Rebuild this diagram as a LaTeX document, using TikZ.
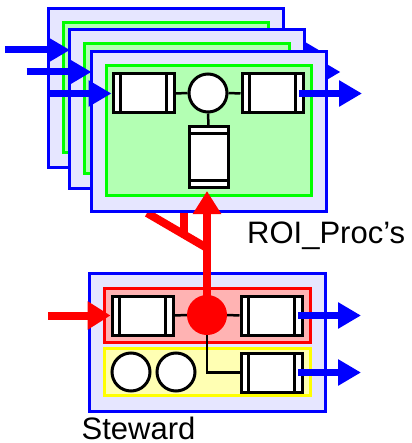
\documentclass[tikz,border=0pt]{standalone}
\usepackage{fontspec}
\setmainfont{Liberation Sans}
\usetikzlibrary{arrows.meta}
\definecolor{lav}{RGB}{230,230,255}
\definecolor{lgreen}{RGB}{179,255,179}
\definecolor{lred}{RGB}{255,179,179}
\definecolor{lyellow}{RGB}{255,255,179}
\definecolor{pblue}{RGB}{0,0,255}
\definecolor{pgreen}{RGB}{0,255,0}
\definecolor{pred}{RGB}{255,0,0}
\definecolor{pyellow}{RGB}{255,255,0}
\tikzset{
  outerframe/.style={rectangle, draw=pblue, fill=lav, line width=3pt, minimum width=235pt, minimum height=159pt, inner sep=0pt},
  greenframe/.style={rectangle, draw=pgreen, fill=lgreen, line width=3pt, minimum width=205pt, minimum height=130pt, inner sep=0pt},
  bandbox/.style={rectangle, line width=3pt, minimum width=206pt, inner sep=0pt},
  hqueue/.style={rectangle, draw=black, fill=white, line width=3pt, minimum width=61pt, minimum height=39pt, inner sep=0pt,
    path picture={
      \draw[line width=2.2pt] ([xshift=7.5pt]path picture bounding box.north west) -- ([xshift=7.5pt]path picture bounding box.south west);
      \draw[line width=2.2pt] ([xshift=-7.5pt]path picture bounding box.north east) -- ([xshift=-7.5pt]path picture bounding box.south east);
    }},
  vqueue/.style={rectangle, draw=black, fill=white, line width=3pt, minimum width=39pt, minimum height=61pt, inner sep=0pt,
    path picture={
      \draw[line width=2.2pt] ([yshift=-6.5pt]path picture bounding box.north west) -- ([yshift=-6.5pt]path picture bounding box.north east);
      \draw[line width=2.2pt] ([yshift=7.5pt]path picture bounding box.south west) -- ([yshift=7.5pt]path picture bounding box.south east);
    }},
  station/.style={circle, draw=black, fill=white, line width=3pt, minimum size=38pt, inner sep=0pt},
  link/.style={draw=black, line width=2.5pt},
  bluearrow/.style={draw=pblue, line width=7pt, -{Triangle[length=23pt,width=25pt]}},
  redarrow/.style={draw=pred, line width=8pt, -{Triangle[length=23pt,width=27pt]}},
  redline/.style={draw=pred, line width=8pt},
  label/.style={inner sep=0pt, font=\fontsize{31}{36}\selectfont}
}
\begin{document}
\begin{tikzpicture}[x=1pt,y=-1pt]
\useasboundingbox (0,0) rectangle (411,443);

% back frame 1
\node[outerframe] (f1) at (165.5,88) {};
\node[greenframe] (g1) at (165.5,87.5) {};
\coordinate (i1s) at (5,50);
\coordinate (i1t) at (70,50);
\coordinate (o1s) at (250,50);
\coordinate (o1t) at (319,50);
\draw[bluearrow] (i1s) -- (i1t);
\draw[bluearrow] (o1s) -- (o1t);

% back frame 2
\node[outerframe] (f2) at (187,109.5) {};
\node[greenframe] (g2) at (187,109) {};
\coordinate (i2s) at (26.5,72);
\coordinate (i2t) at (91.5,72);
\coordinate (o2s) at (271,72);
\coordinate (o2t) at (340.5,72);
\draw[bluearrow] (i2s) -- (i2t);
\draw[bluearrow] (o2s) -- (o2t);

% red fork (under front frame)
\coordinate (fkA) at (147,213);
\coordinate (fkB) at (207,248);
\coordinate (fkC) at (184,236);
\coordinate (fkD) at (184,205);
\draw[redline] (fkA) -- (fkB);
\draw[redline] (fkC) -- (fkD);

% front frame 3
\node[outerframe] (f3) at (208.5,131.5) {};
\node[greenframe] (g3) at (208.5,131) {};
\node[hqueue] (L3) at (143.5,93.5) {};
\node[hqueue] (R3) at (272.5,93.5) {};
\node[station] (C3) at (208,93) {};
\node[vqueue] (V3) at (208.5,157.5) {};
\draw[link] (L3.east) -- (C3.west);
\draw[link] (C3.east) -- (R3.west);
\draw[link] (C3.south) -- (V3.north);
\coordinate (i3s) at (48,93.5);
\coordinate (o3s) at (299,93.5);
\coordinate (o3t) at (362,93.5);
\draw[bluearrow] (i3s) -- (L3.west);
\draw[bluearrow] (o3s) -- (o3t);

% steward
\node[outerframe, minimum width=236pt, minimum height=138pt] (st) at (207,342) {};
\node[bandbox, draw=pred, fill=lred, minimum height=54pt] (rb) at (207,315) {};
\node[bandbox, draw=pyellow, fill=lyellow, minimum height=47pt] (yb) at (207,371.5) {};
\node[hqueue] (LS) at (142.5,315.5) {};
\node[hqueue] (RS) at (271.5,315.5) {};
\node[hqueue] (RS2) at (271.5,372.5) {};
\node[circle, fill=pred, minimum size=40pt, inner sep=0pt] (RC) at (207,315) {};
\node[station] (Y1) at (131,372) {};
\node[station] (Y2) at (176,372) {};
\draw[link] (LS.east) -- (RC.west);
\draw[link] (RC.east) -- (RS.west);
\draw[link] (RC.south) |- (RS2.west);
\coordinate (isS) at (48,315.5);
\draw[redarrow] (isS) -- (LS.west);
\coordinate (os1) at (298,315.5);
\coordinate (ot1) at (361,315.5);
\coordinate (os2) at (298,372.5);
\coordinate (ot2) at (361,372.5);
\draw[bluearrow] (os1) -- (ot1);
\draw[bluearrow] (os2) -- (ot2);

% red arrow up to the processors
\coordinate (rtip) at (207,191);
\draw[redarrow] (RC.center) -- (rtip);

% labels
\node[label, anchor=base west] (lroi) at (247,243) {ROI\_Proc’s};
\node[label, anchor=base west] (lst) at (81.5,439.5) {Steward};
\end{tikzpicture}
\end{document}
